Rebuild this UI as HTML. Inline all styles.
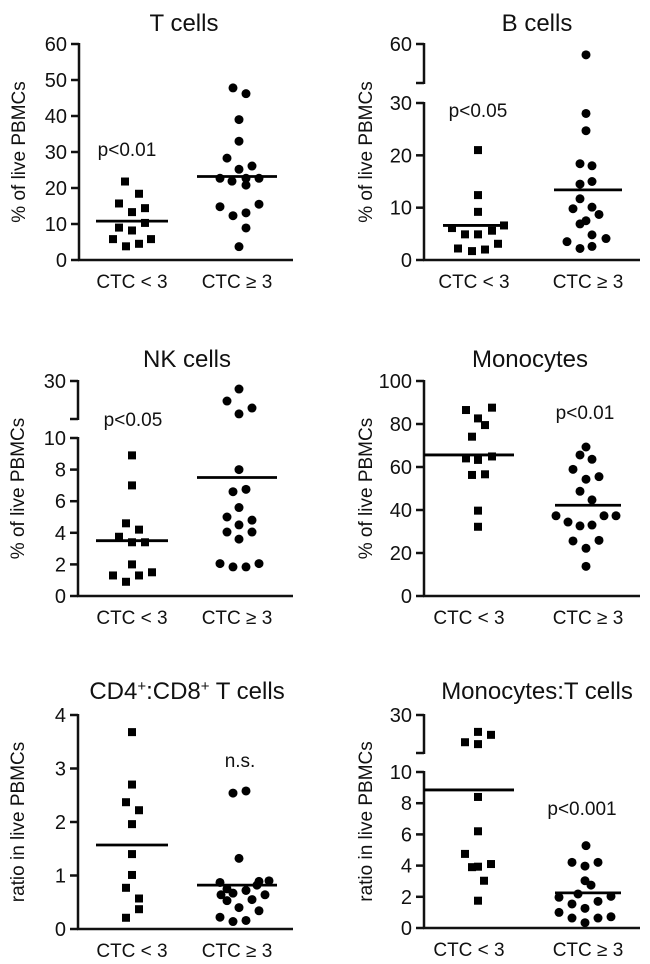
<!DOCTYPE html>
<html><head><meta charset="utf-8"><style>
html,body{margin:0;padding:0;background:#fff;}
svg{display:block;font-family:"Liberation Sans",Arial,sans-serif;}
</style></head><body>
<svg id="fig" width="650" height="964" viewBox="0 0 650 964" xmlns="http://www.w3.org/2000/svg"></svg>
<script>
// ---- data ----
const categories = ["CTC < 3", "CTC \u2265 3"];
const tLow = [21.8,18.4,15.7,13.3,14.4,10.3,9,8.2,5.8,5.8,4.5,3.8];
const tHigh = [47.8,46.2,39,33,28.3,25.2,26.1,22.7,21.9,22.7,22.7,20.8,14.8,12.3,13.1,15.5,8.9,3.7];
const tMeans = [10.8,23.2];
const bLow = [21,12.4,9.2,6.1,4.9,4.9,5.6,6.6,2.2,1.7,2.0,3.1];
const bHigh = [55,28,24.7,18.4,18,14.5,15,11.7,9.8,10.1,8.7,7.5,6.9,4.8,4.1,3.5,2.2,2.6];
const bMeans = [6.6,13.4];
const nkLow = [8.9,7.0,4.6,4.2,3.75,3.4,3.4,2.0,1.3,1.3,1.5,0.9];
const nkHigh = [26.2,20.5,17.2,14.4,8.0,6.6,6.75,5.6,5.0,4.8,4.5,4.05,4.05,3.6,2.05,1.84,1.84,2.05];
const nkMeans = [3.5,7.5];
const moLow = [86.5,87.6,82.6,79.5,74.1,64,63.3,64.9,56.3,56.6,39.7,32.2];
const moHigh = [69.3,65.6,63.6,58.9,54.3,55.5,48.7,44.7,37.3,34.4,32.6,33,37.3,37.3,25.6,25.9,22.2,13.8];
const moMeans = [65.6,42.2];
const cdLow = [3.68,2.70,2.37,2.22,1.96,1.40,1.01,0.77,0.57,0.37,0.21];
const cdHigh = [2.54,2.58,1.32,0.87,0.89,0.90,0.82,0.75,0.64,0.67,0.72,0.64,0.53,0.55,0.40,0.34,0.22,0.14,0.16];
const cdMeans = [1.57,0.82];
const mtLow = [22.0,20.6,17.1,16.2,8.4,6.2,4.75,3.9,3.93,4.1,3.03,1.75];
const mtHigh = [5.28,4.21,3.97,4.21,3.03,2.75,1.97,2.18,2.03,1.54,1.71,1.26,1.0,0.64,0.64,0.72,0.34];
const mtMeans = [8.85,2.25];
const tTicks = [0,10,20,30,40,50,60];
const bTicks = [0,10,20,30];
const nkTicks = [0,2,4,6,8,10];
const moTicks = [0,20,40,60,80,100];
const cdTicks = [0,1,2,3,4];
const mtTicks = [0,2,4,6,8,10];

// jitter (horizontal scatter offsets, px)
const jT = [[-7,7,-13,0,13,13,-13,0,-19,19,7,-6],[-4,9,2,2,-10,2,15,-17,-5,9,22,9,-17,-4,9,22,9,2]];
const jB = [[4,4,4,-22,-9,4,18,30,-16,-2,11,24],[-2,-2,-2,-8,4,-8,4,-8,-15,4,11,-2,-8,4,18,-21,-8,4]];
const jN = [[0,0,-6,7,-13,0,13,0,-19,7,20,-6],[2,-10,15,2,2,-4,9,2,-10,15,2,-10,15,2,-17,-4,9,22]];
const jM = [[-3,23,9,16,3,-3,9,23,3,16,9,9],[-2,-8,4,-15,-2,11,-8,4,-32,-20,-8,4,16,28,-15,11,-2,-2]];
const jC = [[0,0,-6,7,0,0,0,-6,7,7,-6],[-4,9,2,-17,22,32,20,-10,-16,-4,9,28,-10,15,2,22,-17,-4,9]];
const jR = [[9,22,-4,9,9,9,-4,3,9,22,15,9],[-2,-16,-3,10,-3,3,-29,-10,23,-16,10,-3,-29,-16,10,23,-3]];

const NS = "http://www.w3.org/2000/svg";
const svg = document.getElementById('fig');
function el(tag, attrs, parent){ const e=document.createElementNS(NS,tag); for(const k in attrs) e.setAttribute(k,attrs[k]); (parent||svg).appendChild(e); return e; }
function txt(s, attrs, parent){ const e=el('text',attrs,parent); e.textContent=s; return e; }

function panel(cfg){
  const g = el('g',{});
  
  
  function y(v){
    if (cfg.brk && v > cfg.lowMax){
      return cfg.upBot - (v - cfg.upMin)/(cfg.upMax - cfg.upMin)*(cfg.upBot - cfg.upTop);
    }
    return cfg.y0 - v/cfg.lowMax*(cfg.y0 - cfg.lowTop);
  }
  const t = txt(cfg.title, {x:cfg.titleX, y:cfg.titleY, 'text-anchor':'middle','font-size':24,fill:'#111'}, g);
  if (cfg.titleHTML) t.innerHTML = cfg.titleHTML;
  
  
  const ax = el('g',{stroke:'#111','stroke-width':2.5}, g);
  
  
  el('line',{x1:cfg.ax,y1:cfg.y0+1,x2:cfg.ax,y2:cfg.lowTop-1},ax);
  if (cfg.brk){
    el('line',{x1:cfg.ax,y1:cfg.upTop-1,x2:cfg.ax,y2:cfg.upBot+1},ax);
    el('line',{x1:cfg.ax-8,y1:cfg.upBot,x2:cfg.ax,y2:cfg.upBot},ax);
    el('line',{x1:cfg.ax-8,y1:cfg.upTop,x2:cfg.ax,y2:cfg.upTop},ax);
    const ul = txt(String(cfg.upMax),{x:cfg.ax-12,y:cfg.upTop+7,'text-anchor':'end','font-size':20,fill:'#111'},g);
    
    
  }
  cfg.ticks.forEach(v=>{
    el('line',{x1:cfg.ax-8,y1:y(v),x2:cfg.ax,y2:y(v)},ax);
    const l = txt(String(v),{x:cfg.ax-12,y:y(v)+7,'text-anchor':'end','font-size':20,fill:'#111'},g);
    
    
  });
  const xa = el('line',{x1:cfg.ax-1,y1:cfg.y0,x2:cfg.xEnd,y2:cfg.y0,stroke:'#111','stroke-width':2.5},g);
  
  
  categories.forEach((c,i)=>{
    const l = txt(c,{x:cfg.centers[i],y:cfg.y0+28,'text-anchor':'middle','font-size':19,fill:'#111'},g);
    
    
  });
  const midY = (cfg.y0 + (cfg.brk?cfg.upTop:cfg.lowTop))/2;
  const lx = cfg.ax-cfg.ylOff;
  const yl = txt(cfg.ylabel,{x:lx,y:midY,'text-anchor':'middle','font-size':19,fill:'#111',transform:`rotate(-90 ${lx} ${midY})`},g);
  
  
  [cfg.low, cfg.high].forEach((arr,gi)=>{
    arr.forEach((v,i)=>{
      const cx = cfg.centers[gi] + cfg.jit[gi][i];
      const cy = y(v);
      let m;
      if (gi===0) m = el('rect',{x:cx-4,y:cy-4,width:8,height:8,fill:'#000'},g);
      else m = el('circle',{cx:cx,cy:cy,r:4.5,fill:'#000'},g);
      
      
    });
  });
  cfg.means.forEach((v,i)=>{
    const hw = cfg.hw[i];
    const m = el('line',{x1:cfg.centers[i]-hw,y1:y(v),x2:cfg.centers[i]+hw,y2:y(v),stroke:'#000','stroke-width':2.8},g);
    
    
  });
  const p = txt(cfg.p,{x:cfg.pX,y:cfg.pY,'text-anchor':'middle','font-size':19,fill:'#111'},g);
  
  
}

const pct = "% of live PBMCs", rat = "ratio in live PBMCs";
panel({name:'t-cells-panel',title:'T cells',titleX:184,titleY:31,ax:79,ylOff:54,y0:260,lowTop:44,lowMax:60,xEnd:293,centers:[132,237],hw:[36,40],ticks:tTicks,low:tLow,high:tHigh,means:tMeans,jit:jT,ylabel:pct,p:'p<0.01',pX:127,pY:156});
panel({name:'b-cells-panel',title:'B cells',titleX:537,titleY:31,ax:424,ylOff:52,y0:260,lowTop:103,lowMax:30,brk:true,upTop:44,upBot:83,upMin:42,upMax:60,xEnd:640,centers:[474,588],hw:[31,34],ticks:bTicks,low:bLow,high:bHigh,means:bMeans,jit:jB,ylabel:pct,p:'p<0.05',pX:478,pY:117});
panel({name:'nk-cells-panel',title:'NK cells',titleX:187,titleY:367,ax:78,ylOff:54,y0:596,lowTop:438,lowMax:10,brk:true,upTop:381,upBot:419,upMin:12,upMax:30,xEnd:293,centers:[132,237],hw:[36,40],ticks:nkTicks,low:nkLow,high:nkHigh,means:nkMeans,jit:jN,ylabel:pct,p:'p<0.05',pX:133,pY:426});
panel({name:'monocytes-panel',title:'Monocytes',titleX:530,titleY:367,ax:424,ylOff:52,y0:596,lowTop:381,lowMax:100,xEnd:640,centers:[469,588],hw:[45,33],ticks:moTicks,low:moLow,high:moHigh,means:moMeans,jit:jM,ylabel:pct,p:'p<0.01',pX:585,pY:419});
panel({name:'cd4-cd8-panel',title:'CD4+:CD8+ T cells',titleHTML:'CD4<tspan baseline-shift="super" font-size="15">+</tspan>:CD8<tspan baseline-shift="super" font-size="15">+</tspan> T cells',titleX:187,titleY:699,ax:78,ylOff:54,y0:929,lowTop:715,lowMax:4,xEnd:293,centers:[132,237],hw:[36,40],ticks:cdTicks,low:cdLow,high:cdHigh,means:cdMeans,jit:jC,ylabel:rat,p:'n.s.',pX:240,pY:767});
panel({name:'monocytes-t-cells-panel',title:'Monocytes:T cells',titleX:537,titleY:699,ax:424,ylOff:52,y0:928,lowTop:772,lowMax:10,brk:true,upTop:715,upBot:753,upMin:12,upMax:30,xEnd:640,centers:[469,588],hw:[45,33],ticks:mtTicks,low:mtLow,high:mtHigh,means:mtMeans,jit:jR,ylabel:rat,p:'p<0.001',pX:582,pY:815});
</script>
</body></html>
